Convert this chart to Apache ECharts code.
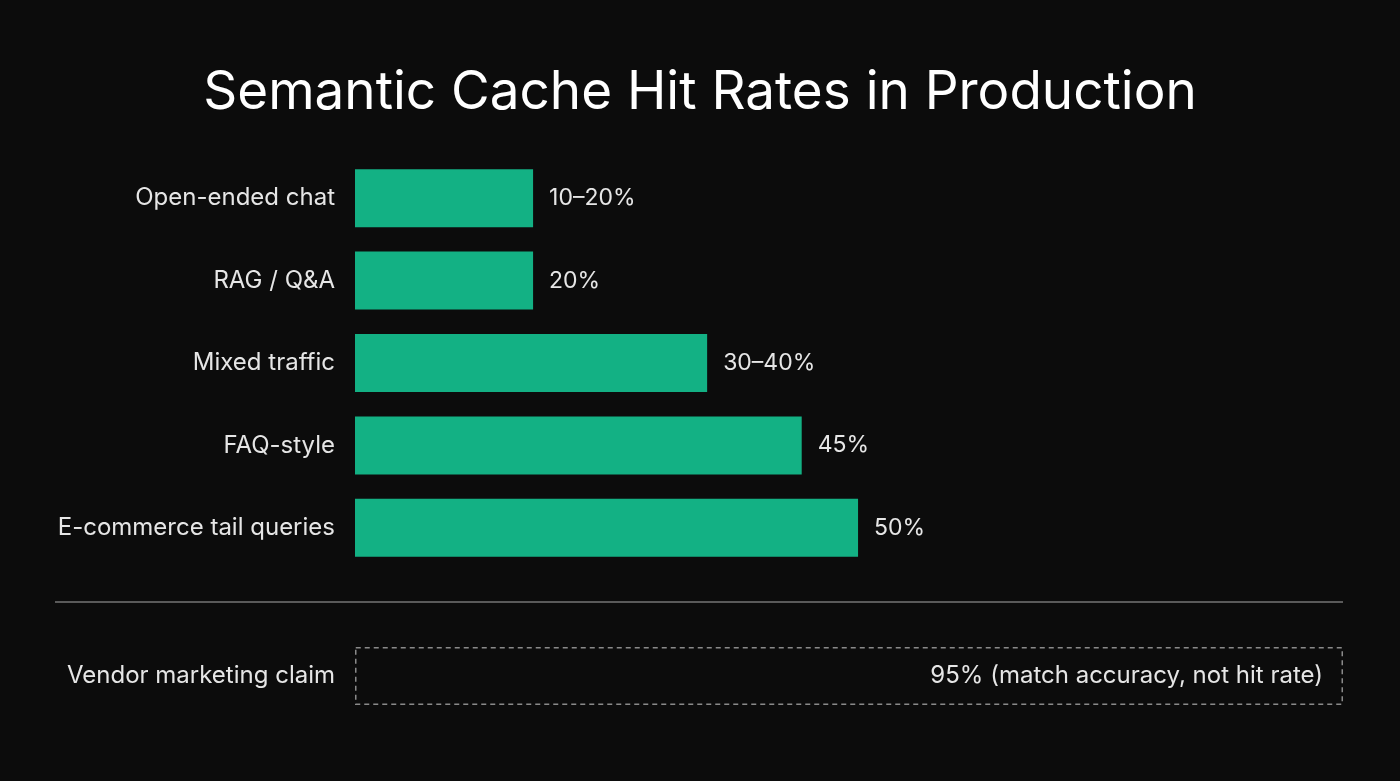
<!DOCTYPE html>
<html><head><meta charset="utf-8">
<script src="https://cdn.jsdelivr.net/npm/echarts@6/dist/echarts.min.js"></script>
<style>html,body{margin:0;background:#0c0c0c}#c{width:1400px;height:781px}</style>
</head><body><div id="c"></div>
<script>
const categories = ["Open-ended chat","RAG / Q&A","Mixed traffic","FAQ-style","E-commerce tail queries"];
const barValues = [17.7, 17.7, 35, 44.4, 50];
const valueLabels = ["10–20%","20%","30–40%","45%","50%"];
const claimCategory = ["Vendor marketing claim"];
const claimValue = [98.2];
const claimLabel = ["95% (match accuracy, not hit rate)"];
const F = "Inter, 'Noto Sans', sans-serif";
const chart = echarts.init(document.getElementById('c'));
chart.setOption({
  backgroundColor:'#0c0c0c',
  title:{text:'Semantic Cache Hit Rates in Production',left:'center',top:62,
    textStyle:{color:'#fff',fontSize:53,fontWeight:'normal',fontFamily:F}},
  grid:[{left:355,width:988,top:157,height:412},{left:355,width:988,top:640,height:72}],
  xAxis:[{gridIndex:0,type:'value',min:0,max:98.2,show:false},
         {gridIndex:1,type:'value',min:0,max:98.2,show:false}],
  yAxis:[{gridIndex:0,type:'category',data:categories,inverse:true,axisLine:{show:false},axisTick:{show:false},
          axisLabel:{color:'#e6e6e6',fontSize:24,fontFamily:F,margin:20}},
         {gridIndex:1,type:'category',data:claimCategory,axisLine:{show:false},axisTick:{show:false},
          axisLabel:{color:'#e6e6e6',fontSize:24,fontFamily:F,margin:20}}],
  graphic:[{type:'line',shape:{x1:55,y1:602,x2:1343,y2:602},style:{stroke:'#5a5a5a',lineWidth:2}}],
  series:[
    {type:'bar',xAxisIndex:0,yAxisIndex:0,data:barValues,barWidth:58,
     itemStyle:{color:'#13b184'},
     label:{show:true,position:'right',distance:16,color:'#e6e6e6',fontSize:23,fontFamily:F,
       formatter:p=>valueLabels[p.dataIndex]}},
    {type:'bar',xAxisIndex:1,yAxisIndex:1,data:claimValue,barWidth:58,
     itemStyle:{color:'rgba(0,0,0,0)',borderColor:'#8a8a8a',borderWidth:1.5,borderType:[5,4]},
     label:{show:true,position:'insideRight',distance:20,color:'#e6e6e6',fontSize:24,fontFamily:F,
       formatter:p=>claimLabel[p.dataIndex]}}
  ]
});
</script></body></html>
